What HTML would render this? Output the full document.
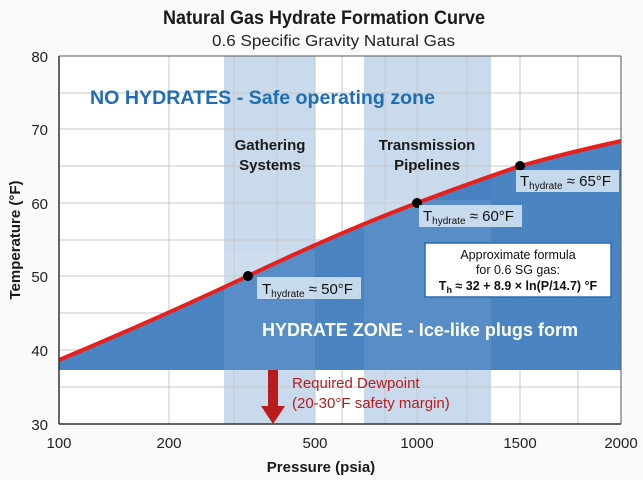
<!DOCTYPE html>
<html><head><meta charset="utf-8"><style>
body{margin:0;background:#fafafa;}
svg{display:block;font-family:"Liberation Sans",sans-serif;}
</style></head><body>
<svg width="643" height="480" viewBox="0 0 643 480" xmlns="http://www.w3.org/2000/svg">
<rect width="643" height="480" fill="#fafafa"/>
<rect x="59" y="56" width="562" height="368" fill="#ffffff"/>
<!-- bands -->
<rect x="224" y="56" width="91" height="368" fill="#c8daec"/>
<rect x="364" y="56" width="127" height="368" fill="#c8daec"/>
<!-- grid -->
<g stroke="#c8c8c8" stroke-width="1">
<line x1="59" x2="621" y1="93" y2="93"/><line x1="59" x2="621" y1="129" y2="129"/>
<line x1="59" x2="621" y1="166" y2="166"/><line x1="59" x2="621" y1="203" y2="203"/>
<line x1="59" x2="621" y1="240" y2="240"/><line x1="59" x2="621" y1="276" y2="276"/>
<line x1="59" x2="621" y1="313" y2="313"/><line x1="59" x2="621" y1="350" y2="350"/>
<line x1="59" x2="621" y1="387" y2="387"/>
<line x1="169" x2="169" y1="56" y2="424"/><line x1="234" x2="234" y1="56" y2="424"/>
<line x1="277" x2="277" y1="56" y2="424"/><line x1="315" x2="315" y1="56" y2="424"/>
<line x1="342" x2="342" y1="56" y2="424"/><line x1="385" x2="385" y1="56" y2="424"/>
<line x1="417" x2="417" y1="56" y2="424"/><line x1="467" x2="467" y1="56" y2="424"/>
<line x1="520" x2="520" y1="56" y2="424"/><line x1="578" x2="578" y1="56" y2="424"/>
</g>
<!-- hydrate fill -->
<path d="M59,360 Q150,322 248,276 Q340,232 417,203 Q470,183 520,166 Q570,152 621,141 L621,370 L59,370 Z" fill="#3b79bd" fill-opacity="0.92"/>
<rect x="224" y="250" width="91" height="120" fill="#ffffff" fill-opacity="0.1"/>
<rect x="364" y="200" width="127" height="170" fill="#ffffff" fill-opacity="0.1"/>
<path d="M59,360 Q150,322 248,276 Q340,232 417,203 Q470,183 520,166 Q570,152 621,141" fill="none" stroke="#e8201c" stroke-width="4"/>
<circle cx="248" cy="276" r="5" fill="#000"/>
<circle cx="417" cy="203" r="5" fill="#000"/>
<circle cx="520" cy="166" r="5" fill="#000"/>
<!-- axes -->
<line x1="59" y1="56" x2="621" y2="56" stroke="#555" stroke-width="1"/>
<line x1="621" y1="56" x2="621" y2="424" stroke="#555" stroke-width="1"/>
<line x1="59" y1="56" x2="59" y2="424" stroke="#333" stroke-width="1.5"/>
<line x1="59" y1="424" x2="621" y2="424" stroke="#333" stroke-width="1.5"/>
<!-- titles -->
<text x="163" y="24" font-size="19" font-weight="bold" fill="#1a1a1a" textLength="322" lengthAdjust="spacingAndGlyphs">Natural Gas Hydrate Formation Curve</text>
<text x="212" y="46" font-size="16" fill="#222" textLength="243" lengthAdjust="spacingAndGlyphs">0.6 Specific Gravity Natural Gas</text>
<g font-size="15" fill="#222" text-anchor="end">
<text x="48" y="62">80</text><text x="48" y="135">70</text><text x="48" y="209">60</text>
<text x="48" y="282">50</text><text x="48" y="356">40</text><text x="48" y="430">30</text>
</g>
<g font-size="15" fill="#222" text-anchor="middle">
<text x="59" y="448">100</text><text x="169" y="448">200</text><text x="315" y="448">500</text>
<text x="417" y="448">1000</text><text x="520" y="448">1500</text><text x="621" y="448">2000</text>
</g>
<text x="321" y="472" text-anchor="middle" font-size="15" font-weight="bold" fill="#1a1a1a">Pressure (psia)</text>
<text transform="translate(20,240) rotate(-90)" text-anchor="middle" font-size="15" font-weight="bold" fill="#1a1a1a">Temperature (°F)</text>
<!-- zone labels -->
<text x="90" y="104" font-size="19" font-weight="bold" fill="#1f6db3" textLength="345" lengthAdjust="spacingAndGlyphs">NO HYDRATES -  Safe operating zone</text>
<g font-size="15" font-weight="bold" fill="#1a1a1a" text-anchor="middle">
<text x="270" y="150">Gathering</text><text x="270" y="170">Systems</text>
<text x="427" y="150">Transmission</text><text x="427" y="170">Pipelines</text>
</g>
<text x="262" y="336" font-size="18" font-weight="bold" fill="#ffffff" textLength="316" lengthAdjust="spacingAndGlyphs">HYDRATE ZONE - Ice-like plugs form</text>
<!-- point labels -->
<rect x="257" y="277" width="104" height="22" fill="#dbe8f5" fill-opacity="0.85"/>
<text x="262" y="294" font-size="15" fill="#111">T<tspan font-size="10" dy="3">hydrate</tspan><tspan dy="-3"> ≈ 50°F</tspan></text>
<rect x="419" y="205" width="103" height="22" fill="#dbe8f5" fill-opacity="0.85"/>
<text x="423" y="221" font-size="15" fill="#111">T<tspan font-size="10" dy="3">hydrate</tspan><tspan dy="-3"> ≈ 60°F</tspan></text>
<rect x="516" y="170" width="103" height="22" fill="#dbe8f5" fill-opacity="0.85"/>
<text x="520" y="186" font-size="15" fill="#111">T<tspan font-size="10" dy="3">hydrate</tspan><tspan dy="-3"> ≈ 65°F</tspan></text>
<!-- formula box -->
<rect x="425" y="243" width="186" height="54" fill="#fff" stroke="#2a6db0" stroke-width="1.5"/>
<g text-anchor="middle" font-size="12.5" fill="#111">
<text x="518" y="259">Approximate formula</text>
<text x="518" y="274">for 0.6 SG gas:</text>
<text x="518" y="290" font-weight="bold">T<tspan font-size="9" dy="3">h</tspan><tspan dy="-3"> ≈ 32 + 8.9 × ln(P/14.7) °F</tspan></text>
</g>
<!-- arrow -->
<rect x="268" y="370" width="10" height="38" fill="#b81c1c"/>
<polygon points="261,406 285,406 273,424" fill="#b81c1c"/>
<text x="292" y="388" font-size="15" fill="#b81c1c">Required Dewpoint</text>
<text x="292" y="408" font-size="15" fill="#b81c1c">(20-30°F safety margin)</text>
</svg>
</body></html>
